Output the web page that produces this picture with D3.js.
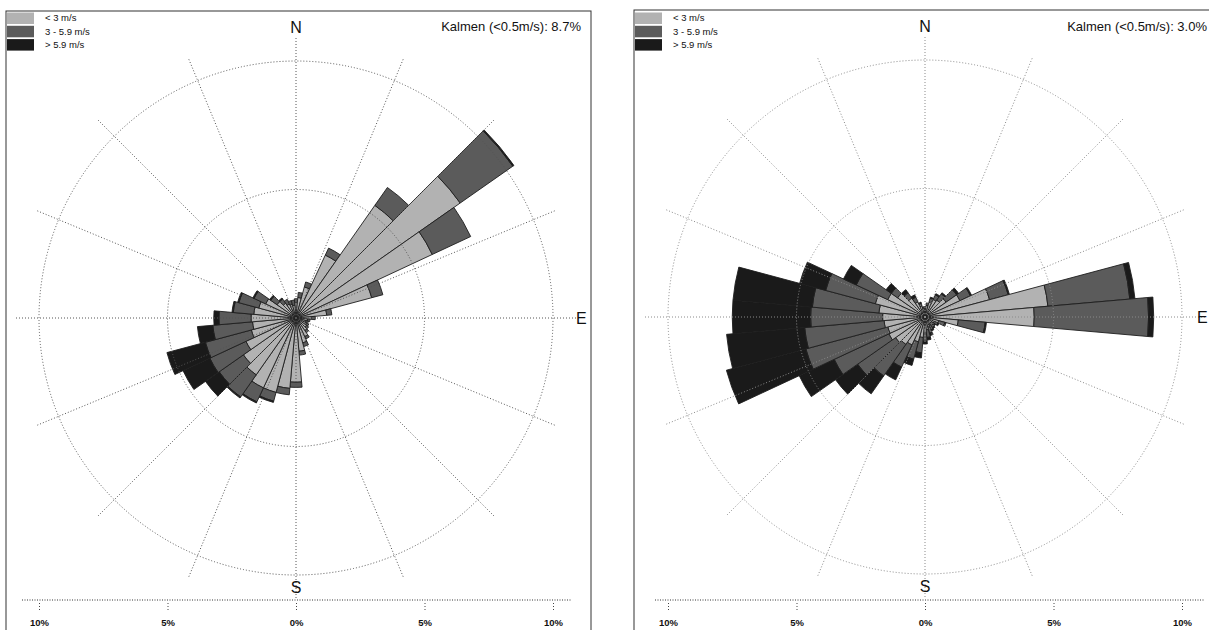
<!DOCTYPE html>
<html>
<head>
<meta charset="utf-8">
<script src="https://cdn.jsdelivr.net/npm/d3@7/dist/d3.min.js"></script>
<style>
  body { margin: 0; background: #fff; }
  svg { display: block; }
  text { font-family: "Liberation Sans", Arial, sans-serif; fill: #111; }
</style>
</head>
<body>
<svg id="chart" width="1209" height="630"></svg>
<script>
// wind directions (sector centres, degrees from north)
const directions = [0, 10, 20, 30, 40, 50, 60, 70, 80, 90, 100, 110, 120, 130, 140, 150, 160, 170,
                    180, 190, 200, 210, 220, 230, 240, 250, 260, 270, 280, 290, 300, 310, 320, 330, 340, 350];

const speedClasses = ["< 3 m/s", "3 - 5.9 m/s", "> 5.9 m/s"];
const classColors = ["#b2b2b2", "#5b5b5b", "#1a1a1a"];

// left rose, frequency in % per speed class
const leftLow  = [0.6, 0.8, 1.25, 2.7, 5.35, 7.8, 5.85, 3.05, 1.2, 0.6, 0.45, 0.4, 0.45, 0.5, 0.6, 0.8, 1.0, 1.3,
                  2.5, 2.75, 3.0, 3.0, 2.7, 2.5, 2.15, 1.8, 1.7, 1.75, 1.65, 1.5, 1.3, 0.9, 0.7, 0.6, 0.55, 0.5];
const leftMid  = [0.15, 0.2, 0.2, 0.3, 0.85, 2.5, 1.65, 0.45, 0.2, 0.15, 0.1, 0.1, 0.1, 0.1, 0.1, 0.1, 0.15, 0.15,
                  0.2, 0.25, 0.35, 0.6, 1.05, 1.15, 1.55, 1.85, 1.55, 1.25, 0.8, 0.8, 0.5, 0.3, 0.2, 0.2, 0.15, 0.2];
const leftHigh = [0, 0, 0, 0, 0, 0.05, 0, 0, 0, 0, 0, 0, 0, 0, 0, 0, 0, 0,
                  0, 0, 0.05, 0.05, 0.05, 0.65, 1.15, 1.55, 0.6, 0.2, 0.05, 0.05, 0.05, 0.05, 0.05, 0, 0, 0];
const leftCalm = "8.7%";

// right rose
const rightLow  = [0.35, 0.45, 0.6, 0.75, 0.8, 1.0, 1.5, 2.6, 4.8, 4.25, 1.3, 0.55, 0.4, 0.35, 0.35, 0.35, 0.4, 0.5,
                   0.6, 0.8, 1.0, 1.2, 1.3, 1.4, 1.55, 1.5, 1.6, 1.65, 1.8, 2.0, 1.6, 1.3, 0.9, 0.65, 0.45, 0.35];
const rightMid  = [0.05, 0.1, 0.15, 0.2, 0.3, 0.5, 0.45, 0.75, 3.2, 4.45, 1.05, 0.25, 0.15, 0.1, 0.15, 0.2, 0.25, 0.3,
                   0.35, 0.6, 0.7, 0.95, 1.5, 1.8, 2.35, 3.3, 3.1, 2.8, 2.6, 2.0, 1.35, 0.3, 0.25, 0.2, 0.1, 0.05];
const rightHigh = [0, 0, 0.05, 0.05, 0.05, 0.1, 0.05, 0.05, 0.2, 0.2, 0.05, 0.05, 0.05, 0.05, 0.05, 0.05, 0.1, 0.1,
                   0.1, 0.2, 0.25, 0.55, 0.85, 1.05, 1.5, 3.2, 3.05, 3.05, 3.1, 1.05, 0.55, 0.25, 0.15, 0.1, 0.05, 0];
const rightCalm = "3.0%";

const ringValues = [5, 10];
const spokeAngles = [0, 22.5, 45, 67.5, 90, 112.5, 135, 157.5, 180, 202.5, 225, 247.5, 270, 292.5, 315, 337.5];
const scaleTicks = [-10, -5, 0, 5, 10];

const svg = d3.select("#chart");

function drawPanel(opt) {
    let cx = opt.cx, cy = opt.cy;
    let r = d3.scaleLinear().domain([0, 10]).range([0, 257]);
    let panel = svg.append("g");

    // frame
    panel.append("rect")
        .attr("x", opt.frame[0]).attr("y", opt.frame[1])
        .attr("width", opt.frame[2]).attr("height", opt.frame[3])
        .attr("fill", "none").attr("stroke", "#333").attr("stroke-width", 1);

    // stacked sectors
    let segs = [];
    for (let i = 0; i < directions.length; i++) {
        let vals = [opt.low[i], opt.mid[i], opt.high[i]];
        let acc = 0;
        for (let k = 0; k < 3; k++) {
            if (vals[k] > 0) {
                segs.push({dir: directions[i], r0: acc, r1: acc + vals[k], cls: k});
            }
            acc += vals[k];
        }
    }
    let arc = d3.arc()
        .innerRadius(d => r(d.r0))
        .outerRadius(d => r(d.r1))
        .startAngle(d => (d.dir - 5) * Math.PI / 180)
        .endAngle(d => (d.dir + 5) * Math.PI / 180);

    let rose = panel.append("g").attr("transform", "translate(" + cx + "," + cy + ")");
    rose.selectAll("path.seg")
        .data(segs)
        .enter()
        .append("path")
        .attr("class", "seg")
        .attr("d", arc)
        .attr("fill", d => classColors[d.cls])
        .attr("stroke", "#1e1e1e")
        .attr("stroke-width", 0.9);

    // grid on top (dotted)
    let grid = rose.append("g")
        .attr("fill", "none")
        .attr("stroke", opt.gridColor)
        .attr("stroke-width", 1)
        .attr("stroke-dasharray", "1,2");
    grid.selectAll("circle")
        .data(ringValues)
        .enter()
        .append("circle")
        .attr("r", d => r(d));
    grid.selectAll("line")
        .data(spokeAngles)
        .enter()
        .append("line")
        .attr("x1", 0).attr("y1", 0)
        .attr("x2", d => 280 * Math.sin(d * Math.PI / 180))
        .attr("y2", d => -280 * Math.cos(d * Math.PI / 180));

    // compass letters
    panel.append("text").attr("x", cx).attr("y", cy - 285)
        .attr("text-anchor", "middle").attr("font-size", 16).text("N");
    panel.append("text").attr("x", cx).attr("y", cy + 275)
        .attr("text-anchor", "middle").attr("font-size", 16).text("S");
    panel.append("text").attr("x", Math.min(cx + 280, 1197)).attr("y", cy + 6)
        .attr("font-size", 16).text("E");

    // calm
    panel.append("text").attr("x", opt.calmX).attr("y", 31)
        .attr("text-anchor", "end").attr("font-size", 13)
        .text("Kalmen (<0.5m/s): " + opt.calm);

    // legend
    let leg = panel.append("g");
    leg.selectAll("rect")
        .data(speedClasses)
        .enter()
        .append("rect")
        .attr("x", opt.frame[0] + 1)
        .attr("y", (d, i) => 12.5 + i * 13.3)
        .attr("width", 27).attr("height", 11.5)
        .attr("fill", (d, i) => classColors[i]);
    leg.selectAll("text")
        .data(speedClasses)
        .enter()
        .append("text")
        .attr("x", opt.frame[0] + 39)
        .attr("y", (d, i) => 21 + i * 13.5)
        .attr("font-size", 9.5)
        .text(d => d);

    // percent scale bar
    let xs = d3.scaleLinear().domain([-10, 10]).range([cx - 257, cx + 257]);
    panel.append("line")
        .attr("x1", opt.barX[0]).attr("x2", opt.barX[1])
        .attr("y1", 600).attr("y2", 600)
        .attr("stroke", "#333").attr("stroke-dasharray", "1,1.5");
    let axis = d3.axisBottom(xs)
        .tickValues(scaleTicks)
        .tickFormat(d => Math.abs(d) + "%")
        .tickSize(9)
        .tickSizeOuter(0)
        .tickPadding(7);
    let ax = panel.append("g").attr("transform", "translate(0,603)").call(axis);
    ax.select(".domain").remove();
    ax.selectAll(".tick line").attr("stroke", "#444").attr("stroke-dasharray", "1,2");
    ax.selectAll(".tick text")
        .attr("font-family", "'Liberation Sans Narrow', 'Liberation Sans', Arial, sans-serif")
        .attr("font-weight", "bold")
        .attr("font-size", 9.5)
        .attr("fill", "#222");
}

drawPanel({cx: 296, cy: 318, low: leftLow, mid: leftMid, high: leftHigh, calm: leftCalm,
           frame: [6, 11, 585, 640], calmX: 581, gridColor: "#555", barX: [22, 571]});
drawPanel({cx: 925, cy: 317, low: rightLow, mid: rightMid, high: rightHigh, calm: rightCalm,
           frame: [634, 10, 600, 640], calmX: 1207, gridColor: "#8a8a8a", barX: [655, 1205]});
</script>
</body>
</html>
